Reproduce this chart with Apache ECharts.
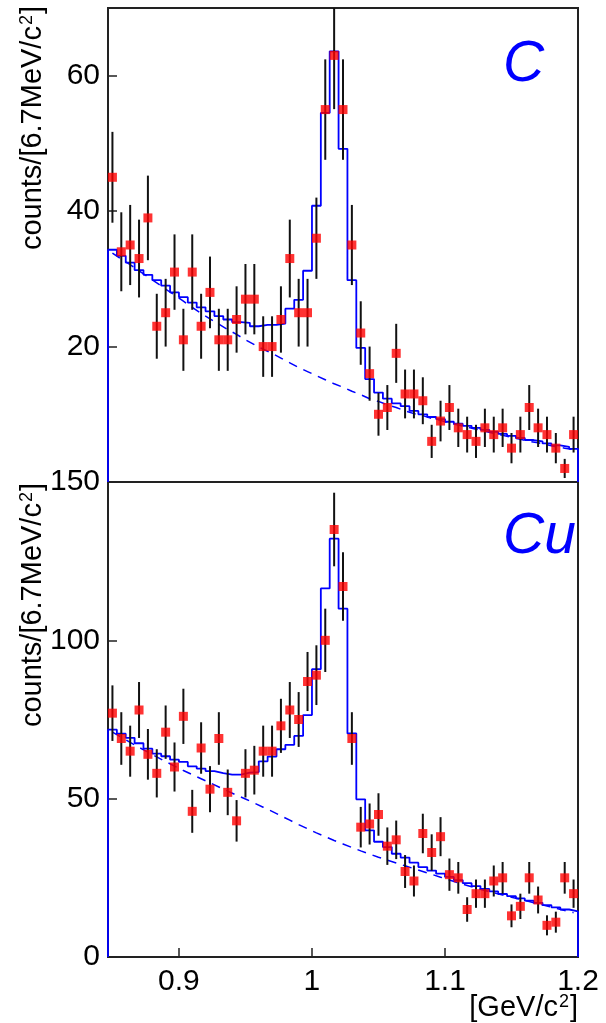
<!DOCTYPE html>
<html>
<head>
<meta charset="utf-8">
<script src="https://cdn.jsdelivr.net/npm/echarts@6/dist/echarts.min.js"></script>
<style>
html,body{margin:0;padding:0;background:#fff;}
#chart{width:606px;height:1023px;}
</style>
</head>
<body>
<div id="chart"></div>
<script>
// mass axis [GeV/c^2], 53 bins of 6.7 MeV
var xMin = 0.84667, xMax = 1.2, binW = 0.0066667;
var xTicks = [0.9, 1.0, 1.1, 1.2];

// C target
var cCounts = [45, 34, 35, 33, 39, 23, 25, 31, 21, 31, 23, 28, 21, 21, 24, 27, 27, 20, 20, 24,
    33, 25, 25, 36, 55, 63, 55, 35, 22, 16, 10, 11, 19, 13, 13, 12, 6, 9, 11, 8,
    7, 6, 8, 7, 8, 5, 7, 11, 8, 7, 5, 2, 7];
var cFit = [34.3, 33.4, 32.4, 31.3, 30.6, 29.8, 29.0, 28.0, 27.3, 26.5, 25.8, 25.2, 24.5, 24.0, 23.6, 23.5, 23.0, 23.2, 23.2, 23.4,
    25.6, 26.9, 31.2, 40.8, 54.5, 63.6, 49.2, 29.8, 19.8, 15.2, 13.2, 12.3, 11.6, 11.2, 10.5, 10.0, 9.6, 9.3, 8.9, 8.6,
    8.3, 8.0, 7.7, 7.4, 7.1, 6.8, 6.5, 6.2, 6.0, 5.7, 5.4, 5.2, 4.9];
var cBkg = [33.8, 32.9, 32.1, 31.2, 30.3, 29.4, 28.5, 27.6, 26.7, 25.8, 24.9, 24.1, 23.3, 22.5, 21.8, 21.0, 20.3, 19.6, 19.0, 18.3,
    17.6, 16.9, 16.3, 15.7, 15.1, 14.5, 14.0, 13.4, 12.9, 12.3, 11.9, 11.4, 11.0, 10.5, 10.1, 9.8, 9.4, 9.1, 8.7, 8.4,
    8.1, 7.8, 7.5, 7.2, 6.9, 6.6, 6.3, 6.0, 5.8, 5.5, 5.2, 5.0, 4.8];
var cTicks = [20, 40, 60];

// Cu target
var cuCounts = [77, 69, 65, 78, 64, 58, 71, 60, 76, 46, 66, 53, 69, 52, 43, 58, 59, 65, 65, 73,
    78, 75, 87, 89, 100, 135, 117, 69, 41, 42, 45, 35, 37, 27, 24, 39, 33, 38, 26, 25,
    15, 20, 20, 24, 25, 13, 16, 25, 18, 10, 11, 25, 20];
var cuFit = [71.8, 70.5, 69.2, 67.5, 65.8, 64.2, 63.4, 62.3, 61.6, 60.2, 59.5, 58.7, 58.1, 57.6, 57.6, 58.2, 58.4, 61.8, 63.3, 65.6,
    67.0, 69.8, 76.4, 90.9, 116.4, 132.1, 110.0, 70.6, 49.8, 40.0, 36.4, 34.7, 32.6, 31.4, 29.8, 28.4, 27.3, 26.3, 25.3, 24.3,
    23.3, 22.4, 21.5, 20.7, 19.9, 19.2, 18.5, 17.8, 17.1, 16.4, 15.7, 15.0, 14.4];
var cuBkg = [71.0, 69.4, 67.8, 66.2, 64.7, 63.2, 61.7, 60.3, 58.9, 57.6, 56.3, 55.0, 53.7, 52.4, 51.1, 49.9, 48.6, 47.3, 46.0, 44.6,
    43.2, 41.8, 40.5, 39.2, 38.0, 36.8, 35.7, 34.6, 33.5, 32.5, 31.5, 30.6, 29.7, 28.8, 27.9, 27.0, 26.1, 25.2, 24.3, 23.4,
    22.6, 21.8, 21.0, 20.3, 19.6, 18.9, 18.2, 17.5, 16.8, 16.1, 15.4, 14.7, 14.0];
var cuTicks = [0, 50, 100, 150];

var FONT = '"Liberation Sans", Arial, sans-serif';
var frame = '#222';

function center(i) { return xMin + binW * (i + 0.5); }

// points with Poisson errors
function points(counts) {
    return counts.map(function (n, i) { return [center(i), n]; });
}
function errors(counts) {
    return counts.map(function (n, i) { return [center(i), n - Math.sqrt(n), n + Math.sqrt(n)]; });
}
// histogram outline (closed to zero at both ends)
function histo(vals) {
    var pts = [[xMin, 0]];
    vals.forEach(function (v, i) {
        var lo = xMin + binW * i;
        pts.push([lo, v], [lo + binW, v]);
    });
    pts.push([xMin + binW * vals.length, 0]);
    return pts;
}
function curve(vals) {
    return vals.map(function (v, i) { return [center(i), v]; });
}

function xAxis(idx, labels) {
    return {
        type: 'value', gridIndex: idx, min: xMin, max: xMax,
        axisLine: {show: false},
        splitLine: {show: false},
        axisTick: {show: labels, inside: true, length: 9, customValues: xTicks, lineStyle: {color: frame, width: 1.5}},
        axisLabel: {show: labels, customValues: xTicks, fontSize: 30, fontFamily: FONT, color: '#000', margin: 10}
    };
}
function yAxis(idx, max, ticks) {
    return {
        type: 'value', gridIndex: idx, min: 0, max: max,
        axisLine: {show: false},
        splitLine: {show: false},
        axisTick: {show: true, inside: true, length: 9, customValues: ticks, lineStyle: {color: frame, width: 1.5}},
        axisLabel: {customValues: ticks, fontSize: 30, fontFamily: FONT, color: '#000', margin: 8}
    };
}

function panel(idx, counts, fit, bkg) {
    return [{
        type: 'line', xAxisIndex: idx, yAxisIndex: idx, data: curve(bkg),
        showSymbol: false, silent: true, z: 2,
        lineStyle: {color: '#0000ff', width: 1.5, type: [9, 7]}
    }, {
        type: 'line', xAxisIndex: idx, yAxisIndex: idx, data: histo(fit),
        showSymbol: false, silent: true, z: 2,
        lineStyle: {color: '#0000ff', width: 1.8}
    }, {
        type: 'custom', xAxisIndex: idx, yAxisIndex: idx, data: errors(counts),
        encode: {x: 0, y: [1, 2]}, clip: true, silent: true, z: 3,
        renderItem: function (params, api) {
            var a = api.coord([api.value(0), api.value(1)]);
            var b = api.coord([api.value(0), api.value(2)]);
            return {type: 'line', shape: {x1: a[0], y1: a[1], x2: b[0], y2: b[1]},
                style: {stroke: '#111', lineWidth: 2}};
        }
    }, {
        type: 'scatter', xAxisIndex: idx, yAxisIndex: idx, data: points(counts),
        symbol: 'rect', symbolSize: 9, silent: true, z: 4,
        itemStyle: {color: '#ff0000'}
    }];
}

// unit text with a real superscript 2
function unitText(x, y, text, size, rot, align, valign) {
    return {
        type: 'text', x: x, y: y, rotation: rot, z: 10,
        style: {
            text: text, font: size + 'px ' + FONT, fill: '#000', align: align, verticalAlign: valign,
            rich: {s: {fontSize: Math.round(size * 0.62), fontFamily: FONT, verticalAlign: 'top', padding: [0, 1, 0, 1]}}
        }
    };
}

var yTitle = 'counts/[6.7MeV/c{s|2}]';

var chart = echarts.init(document.getElementById('chart'));
chart.setOption({
    animation: false,
    backgroundColor: '#fff',
    grid: [
        {left: 108, width: 470, top: 8, height: 474, show: true, borderColor: frame, borderWidth: 2, backgroundColor: 'transparent'},
        {left: 108, width: 470, top: 482, height: 475, show: true, borderColor: frame, borderWidth: 2, backgroundColor: 'transparent'}
    ],
    xAxis: [xAxis(0, false), xAxis(1, true)],
    yAxis: [yAxis(0, 70, cTicks), yAxis(1, 150, cuTicks)],
    series: panel(0, cCounts, cFit, cBkg).concat(panel(1, cuCounts, cuFit, cuBkg)),
    graphic: [
        unitText(33, 6, yTitle, 29, Math.PI / 2, 'right', 'middle'),
        unitText(33, 483, yTitle, 29, Math.PI / 2, 'right', 'middle'),
        {type: 'text', x: 503, y: 65, z: 10,
            style: {text: 'C', font: 'italic 57px ' + FONT, fill: '#0000ff', align: 'left', verticalAlign: 'middle'}},
        {type: 'text', x: 503, y: 537, z: 10,
            style: {text: 'Cu', font: 'italic 57px ' + FONT, fill: '#0000ff', align: 'left', verticalAlign: 'middle'}},
        unitText(578, 1022, '[GeV/c{s|2}]', 29, 0, 'right', 'bottom')
    ]
});
</script>
</body>
</html>
